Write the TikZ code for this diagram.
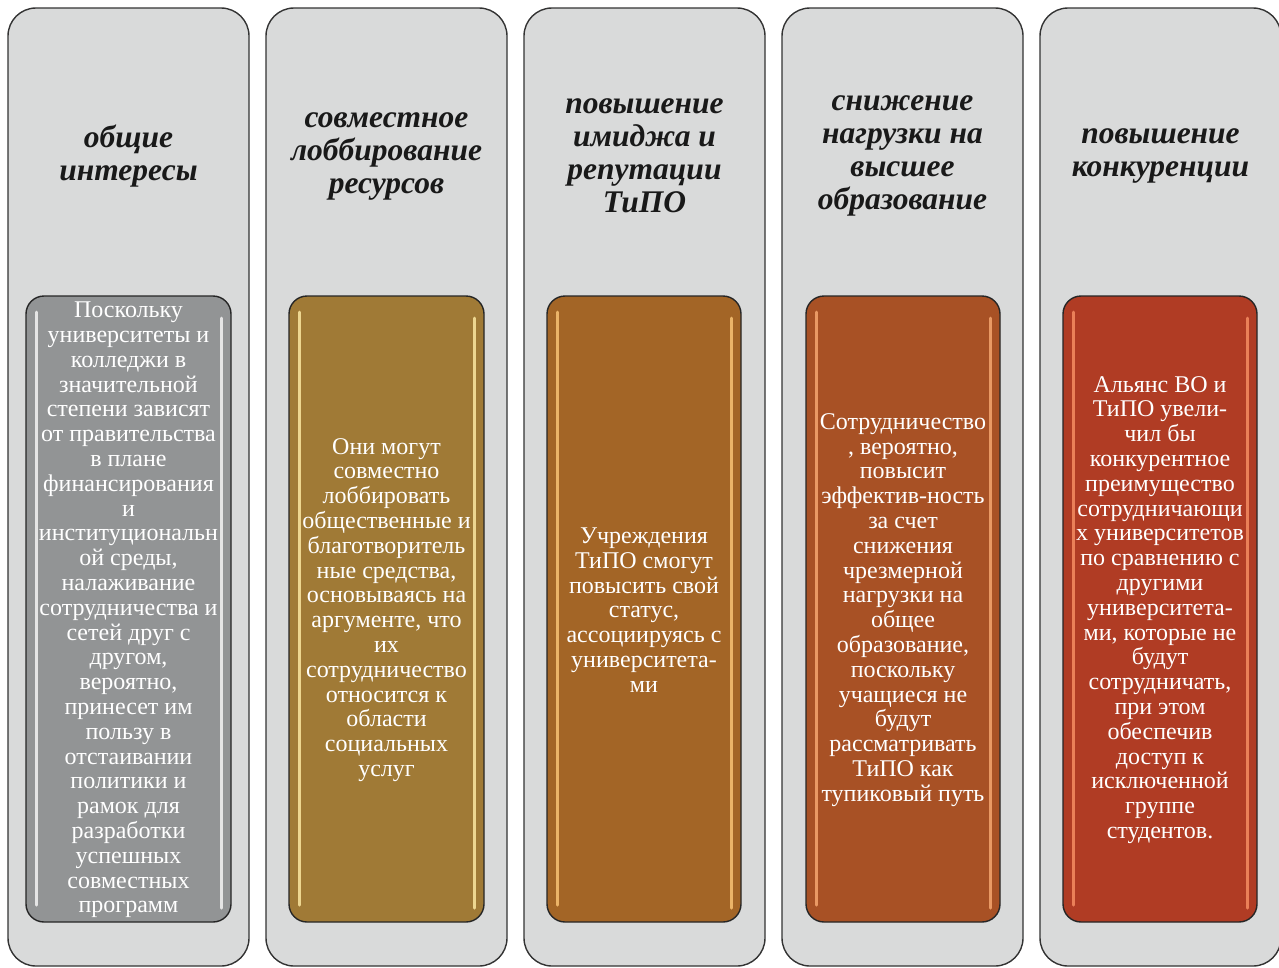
\documentclass[tikz,border=0pt]{standalone}
\usepackage{fontspec}
\setmainfont{Liberation Serif}
\begin{document}
\begin{tikzpicture}[x=1pt,y=-1pt,
  outerbox/.style={draw=black!80,line width=1.4pt,fill=outergray,rounded corners=28pt},
  innerbox/.style={draw=black!85,line width=1.4pt,rounded corners=18pt},
  shine/.style={line width=3pt,line cap=round,opacity=0.85},
  titletext/.style={font=\fontsize{31.5}{33}\selectfont\bfseries\itshape,text=black!90,align=center,inner sep=0pt},
  bodytext/.style={font=\fontsize{24}{24.8}\selectfont,text=white,align=center,inner sep=0pt}]
\definecolor{outergray}{HTML}{D9DADA}
\definecolor{cA}{HTML}{929495}\definecolor{hA}{HTML}{F4F4F4}
\definecolor{cB}{HTML}{A07A36}\definecolor{hB}{HTML}{FBE7A0}
\definecolor{cC}{HTML}{A36526}\definecolor{hC}{HTML}{F8C274}
\definecolor{cD}{HTML}{A85125}\definecolor{hD}{HTML}{F5A670}
\definecolor{cE}{HTML}{B03C24}\definecolor{hE}{HTML}{F58C62}
\useasboundingbox (0,0) rectangle (1279,967);
\clip (0,0) rectangle (1279,967);
% outer boxes
\foreach \i/\x in {1/8,2/266,3/524,4/782,5/1040}{
  \draw[outerbox] (\x,8) rectangle (\x+241,966);
}
% inner boxes
\foreach \i/\l/\r/\c/\h in {1/26/231/cA/hA,2/289/484/cB/hB,3/547/741/cC/hC,4/806/1000/cD/hD,5/1063/1257/cE/hE}{
  \draw[innerbox,fill=\c] (\l,296) rectangle (\r,922);
  \draw[shine,\h] (\l+10,312) -- (\l+10,905);
  \draw[shine,\h] (\r-10,318) -- (\r-10,908);
}
% titles
\node[titletext] (t1) at (128.5,156) {общие\\интересы};
\node[titletext] (t2) at (386.5,156) {совместное\\лоббирование\\ресурсов};
\node[titletext] (t3) at (644.5,156) {повышение\\имиджа и\\репутации\\ТиПО};
\node[titletext] (t4) at (902.5,156) {снижение\\нагрузки на\\высшее\\образование};
\node[titletext] (t5) at (1160.5,156) {повышение\\конкуренции};
% bodies
\node[bodytext] (b1) at (128.5,610) {Поскольку\\университеты и\\колледжи в\\значительной\\степени зависят\\от правительства\\в плане\\финансирования\\и\\институциональн\\ой среды,\\налаживание\\сотрудничества и\\сетей друг с\\другом,\\вероятно,\\принесет им\\пользу в\\отстаивании\\политики и\\рамок для\\разработки\\успешных\\совместных\\программ};
\node[bodytext] (b2) at (386.5,610) {Они могут\\совместно\\лоббировать\\общественные и\\благотворитель\\ные средства,\\основываясь на\\аргументе, что\\их\\сотрудничество\\относится к\\области\\социальных\\услуг};
\node[bodytext] (b3) at (644,610) {Учреждения\\ТиПО смогут\\повысить свой\\статус,\\ассоциируясь с\\университета-\\ми};
\node[bodytext] (b4) at (903,610) {Сотрудничество\\, вероятно,\\повысит\\эффектив-ность\\за счет\\снижения\\чрезмерной\\нагрузки на\\общее\\образование,\\поскольку\\учащиеся не\\будут\\рассматривать\\ТиПО как\\тупиковый путь};
\node[bodytext] (b5) at (1160,610) {Альянс ВО и\\ТиПО увели-\\чил бы\\конкурентное\\преимущество\\сотрудничающи\\х университетов\\по сравнению с\\другими\\университета-\\ми, которые не\\будут\\сотрудничать,\\при этом\\обеспечив\\доступ к\\исключенной\\группе\\студентов.};
\end{tikzpicture}
\end{document}
